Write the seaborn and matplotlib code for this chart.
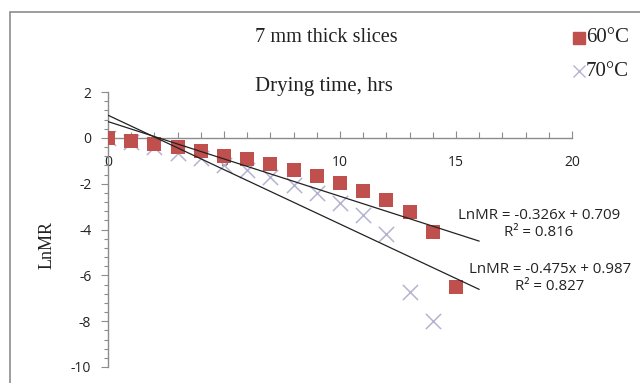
import numpy as np
import pandas as pd
import matplotlib
matplotlib.use("Agg")
import matplotlib.pyplot as plt
from matplotlib.patches import Rectangle
from matplotlib.lines import Line2D
from matplotlib.ticker import MultipleLocator
import seaborn as sns

# ---- data ----
hours_60 = list(range(0, 16))
lnmr_60 = [0, -0.12, -0.27, -0.39, -0.56, -0.78, -0.94, -1.16, -1.41, -1.67,
           -1.99, -2.32, -2.72, -3.23, -4.10, -6.53]
hours_70 = list(range(0, 15))
lnmr_70 = [0, -0.20, -0.40, -0.68, -0.90, -1.19, -1.41, -1.70, -2.06, -2.42,
           -2.83, -3.37, -4.20, -6.72, -7.99]
trend_slopes = [-0.326, -0.475]
trend_intercepts = [0.709, 0.987]
trend_x = [0, 16]
eq_labels = ["LnMR = -0.326x + 0.709\nR² = 0.816",
             "LnMR = -0.475x + 0.987\nR² = 0.827"]
series_names = ["60°C", "70°C"]
x_ticks = [0, 5, 10, 15, 20]
y_ticks = [2, 0, -2, -4, -6, -8, -10]

RED = "#c0504d"
LAV = "#b4b4d2"

sns.set_theme(style="white")
plt.rcParams['font.family'] = ['DejaVu Sans']

fig = plt.figure(figsize=(6.4, 3.83), dpi=100)
ax = fig.add_axes([108/640, 1-367/383, (572-108)/640, (367-92)/383])

# outer chart border
fig.patches.append(Rectangle((10/640, -0.05), 1.0, 1-12/383+0.05,
                             transform=fig.transFigure, fill=False,
                             edgecolor='#8c8c8c', linewidth=1.2))

df60 = pd.DataFrame({"x": hours_60, "y": lnmr_60})
df70 = pd.DataFrame({"x": hours_70, "y": lnmr_70})

sns.scatterplot(data=df70, x="x", y="y", marker="x", s=120, color=LAV,
                linewidth=1.1, ax=ax, zorder=2)
sns.scatterplot(data=df60, x="x", y="y", marker="s", s=115, color=RED,
                edgecolor=RED, linewidth=0, ax=ax, zorder=3)

for m, b in zip(trend_slopes, trend_intercepts):
    tx = np.array(trend_x, dtype=float)
    sns.lineplot(x=tx, y=m * tx + b, color="#222222", linewidth=0.9, ax=ax, zorder=4)

ax.set_xlim(0, 20)
ax.set_ylim(-10, 2)
ax.set_xlabel("")
ax.set_ylabel("")

for s in ["top", "right"]:
    ax.spines[s].set_visible(False)
ax.spines["bottom"].set_position(("data", 0))
for s in ["left", "bottom"]:
    ax.spines[s].set_color("#8c8c8c")
    ax.spines[s].set_linewidth(1.0)

ax.set_xticks(x_ticks)
ax.set_xticklabels([str(t) for t in x_ticks])
ax.set_yticks(y_ticks)
ax.set_yticklabels([str(t) for t in y_ticks])
ax.xaxis.set_minor_locator(MultipleLocator(1))
ax.yaxis.set_minor_locator(MultipleLocator(0.4))
ax.tick_params(which="both", bottom=True, left=True)
ax.tick_params(axis="x", which="major", direction="in", length=5, width=0.8,
               color="#8c8c8c", pad=12, labelsize=10, labelcolor="#222222")
ax.tick_params(axis="x", which="minor", direction="in", length=4, width=0.8,
               color="#8c8c8c")
ax.tick_params(axis="y", which="major", direction="out", length=5, width=0.8,
               color="#8c8c8c", pad=7, labelsize=10, labelcolor="#222222")
ax.tick_params(axis="y", which="minor", direction="out", length=3, width=0.8,
               color="#8c8c8c")
for lab in ax.get_xticklabels() + ax.get_yticklabels():
    lab.set_family("Open Sans")

serif = "Liberation Serif"
fig.text(326/640, 1-37/383, "7 mm thick slices", ha="center", va="center",
         family=serif, fontsize=14.6, color="#222222")
fig.text(324/640, 1-86/383, "Drying time, hrs", ha="center", va="center",
         family=serif, fontsize=15, color="#222222")
fig.text(47/640, 1-245/383, "LnMR", ha="center", va="center", rotation=90,
         family=serif, fontsize=13, color="#222222")

# legend
fig.add_artist(Line2D([579/640], [1-38/383], marker="s", markersize=9,
                      color=RED, linestyle="none", transform=fig.transFigure))
fig.add_artist(Line2D([579/640], [1-71/383], marker="x", markersize=9,
                      markeredgewidth=1.0, color=LAV, linestyle="none",
                      transform=fig.transFigure))
fig.text(586/640, 1-38/383, series_names[0], ha="left", va="center",
         family=serif, fontsize=15, color="#222222")
fig.text(586/640, 1-71/383, series_names[1], ha="left", va="center",
         family=serif, fontsize=15, color="#222222")

# trendline equations
eq_pos = [(539, 224), (550, 278)]
for (px, py), lab in zip(eq_pos, eq_labels):
    fig.text(px/640, 1-py/383, lab, ha="center", va="center",
             family="Open Sans", fontsize=10.8, color="#222222",
             linespacing=1.25)

fig.savefig("out.png", dpi=100)
